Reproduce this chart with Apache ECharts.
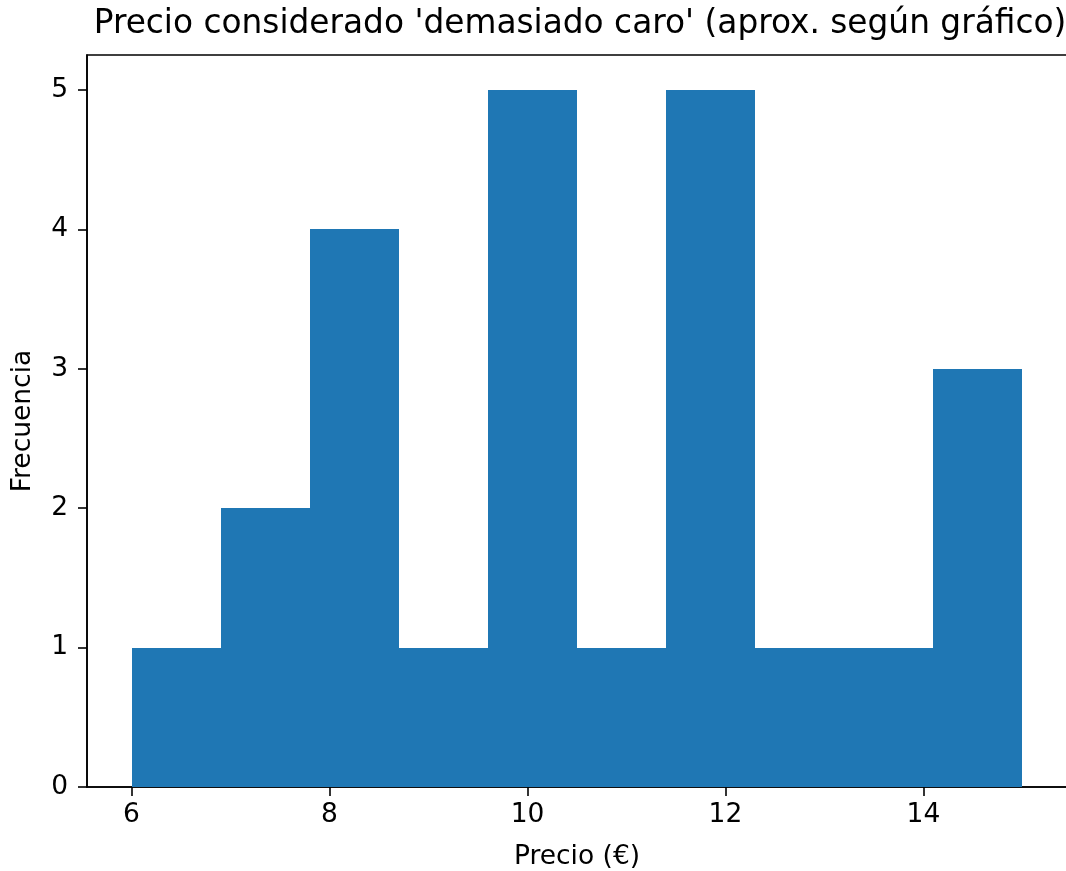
<!DOCTYPE html>
<html>
<head>
<meta charset="utf-8">
<script src="https://cdn.jsdelivr.net/npm/echarts@6/dist/echarts.min.js"></script>
<style>html,body{margin:0;padding:0;background:#fff}#c{width:1066px;height:871px}</style>
</head>
<body>
<div id="c"></div>
<script>
const binEdges = [6, 6.9, 7.8, 8.7, 9.6, 10.5, 11.4, 12.3, 13.2, 14.1, 15];
const counts = [1, 2, 4, 1, 5, 1, 5, 1, 1, 3];
const xTicks = [6, 8, 10, 12, 14];
const yTicks = [0, 1, 2, 3, 4, 5];
const titleText = "Precio considerado 'demasiado caro' (aprox. según gráfico)";
const xLabel = "Precio (€)";
const yLabel = "Frecuencia";

const data = counts.map((c, i) => [binEdges[i], binEdges[i + 1], c]);
const font = 'DejaVu Sans';
const chart = echarts.init(document.getElementById('c'), null, {renderer: 'canvas'});
chart.setOption({
  animation: false,
  backgroundColor: '#fff',
  title: {
    text: titleText, left: 575, top: 3, textAlign: 'center',
    textStyle: {fontFamily: font, fontSize: 32.8, fontWeight: 'normal', color: '#000'}
  },
  grid: {left: 87, right: -1, top: 55, bottom: 84, outerBoundsMode: 'none', containLabel: false, show: true, borderColor: '#000', borderWidth: 1.6, backgroundColor: 'transparent'},
  xAxis: {
    type: 'value', min: 5.55, max: 15.45,
    name: xLabel, nameLocation: 'middle', nameGap: 57,
    nameTextStyle: {fontFamily: font, fontSize: 26.5, color: '#000'},
    splitLine: {show: false},
    axisLine: {show: true, lineStyle: {color: '#000', width: 1.6}},
    axisTick: {show: true, length: 9, lineStyle: {color: '#000', width: 1.6}, customValues: xTicks},
    axisLabel: {fontFamily: font, fontSize: 26.5, color: '#000', margin: 15, customValues: xTicks}
  },
  yAxis: {
    type: 'value', min: 0, max: 5.25,
    name: yLabel, nameLocation: 'middle', nameGap: 50, nameRotate: 90,
    nameTextStyle: {fontFamily: font, fontSize: 26.5, color: '#000'},
    splitLine: {show: false},
    axisLine: {show: true, lineStyle: {color: '#000', width: 1.6}},
    axisTick: {show: true, length: 9, lineStyle: {color: '#000', width: 1.6}, customValues: yTicks},
    axisLabel: {fontFamily: font, fontSize: 26.5, color: '#000', margin: 19, customValues: yTicks}
  },
  series: [{
    type: 'custom',
    data: data,
    encode: {x: [0, 1], y: 2},
    renderItem: function (params, api) {
      const p0 = api.coord([api.value(0), 0]);
      const p1 = api.coord([api.value(1), api.value(2)]);
      const x0 = Math.round(p0[0]), x1 = Math.round(p1[0]);
      const y0 = Math.round(p0[1]), y1 = Math.round(p1[1]);
      return {
        type: 'rect',
        shape: {x: x0, y: y1, width: x1 - x0, height: y0 - y1},
        style: {fill: '#1f77b4'}
      };
    }
  }]
});
</script>
</body>
</html>
